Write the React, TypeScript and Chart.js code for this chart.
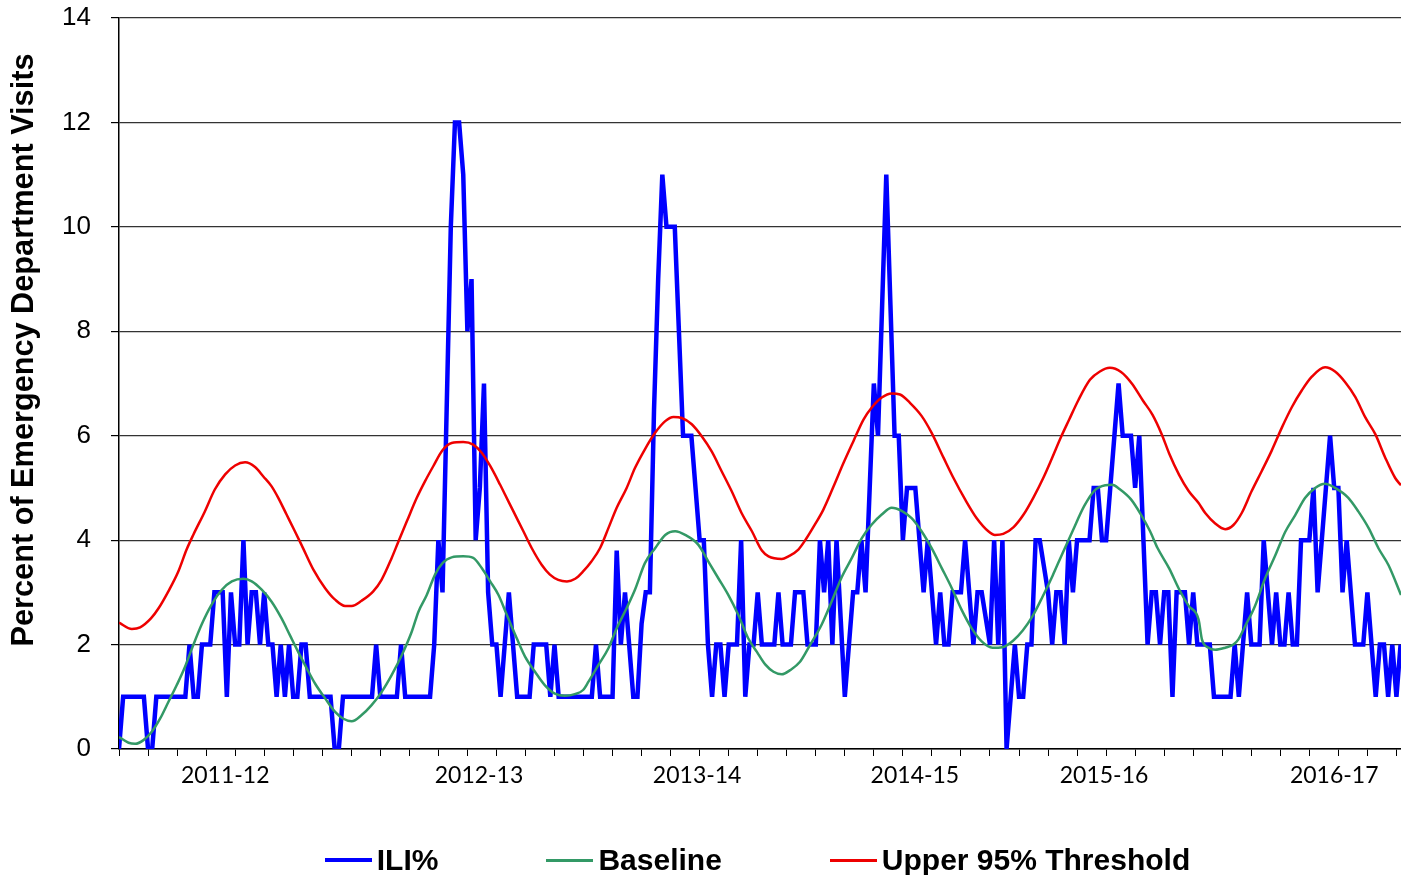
import React, { useEffect, useRef } from "react";
import { Chart, registerables } from "chart.js";

Chart.register(...registerables);

// Weekly ILI% values (week index 0 = first week shown)
const iliValues: number[] = [
  0, 1, 1, 1, 1, 1, 1, 0, 0, 1,
  1, 1, 1, 1, 1, 1, 1, 2, 1, 1,
  2, 2, 2, 3, 3, 3, 1, 3, 2, 2,
  4, 2, 3, 3, 2, 3, 2, 2, 1, 2,
  1, 2, 1, 1, 2, 2, 1, 1, 1, 1,
  1, 1, 0, 0, 1, 1, 1, 1, 1, 1,
  1, 1, 2, 1, 1, 1, 1, 1, 2, 1,
  1, 1, 1, 1, 1, 1, 2, 4, 3, 6.5,
  10, 12, 12, 11, 8, 9, 4, 5, 7, 3,
  2, 2, 1, 2, 3, 2, 1, 1, 1, 1,
  2, 2, 2, 2, 1, 2, 1, 1, 1, 1,
  1, 1, 1, 1, 1, 2, 1, 1, 1, 1,
  3.8, 2, 3, 2, 1, 1, 2.4, 3, 3, 6.5,
  9, 11, 10, 10, 10, 8, 6, 6, 6, 5,
  4, 4, 2, 1, 2, 2, 1, 2, 2, 2,
  4, 1, 2, 2, 3, 2, 2, 2, 2, 3,
  2, 2, 2, 3, 3, 3, 2, 2, 2, 4,
  3, 4, 2, 4, 2.5, 1, 2, 3, 3, 4,
  3, 5, 7, 6, 8.5, 11, 8.5, 6, 6, 4,
  5, 5, 5, 4, 3, 4, 3, 2, 3, 2,
  2, 3, 3, 3, 4, 3, 2, 3, 3, 2.5,
  2, 4, 2, 4, 0, 1, 2, 1, 1, 2,
  2, 4, 4, 3.5, 3, 2, 3, 3, 2, 4,
  3, 4, 4, 4, 4, 5, 5, 4, 4, 5,
  6, 7, 6, 6, 6, 5, 6, 4, 2, 3,
  3, 2, 3, 3, 1, 3, 3, 3, 2, 3,
  2, 2, 2, 2, 1, 1, 1, 1, 1, 2,
  1, 2, 3, 2, 2, 2, 4, 3, 2, 3,
  2, 2, 3, 2, 2, 4, 4, 4, 5, 3,
  4, 5, 6, 5, 5, 3, 4, 3, 2, 2,
  2, 3, 2, 1, 2, 2, 1, 2, 1, 2,
];

// Baseline, read at these week positions
const baselineWeeks: number[] = [
  0, 2.3, 3.9, 5.9, 7.9, 9.9, 11.9, 13.9, 15.9, 17.9,
  19.9, 22.3, 24.8, 27.2, 30, 32, 34.4, 36.8, 39.2, 41.2,
  43.2, 45.3, 47.3, 49.7, 52.1, 54.1, 56.1, 58.5, 60.9, 63.3,
  65.7, 68.2, 70.6, 72.2, 74.2, 76.2, 78, 80.2, 83, 85.4,
  87.5, 89.5, 91.5, 93.5, 95.9, 97.9, 100.3, 102.7, 105.1, 107.5,
  109.9, 111.9, 113.2, 115.6, 118, 120, 122.4, 124.4, 126.8, 129.3,
  131.7, 134.1, 136.5, 139.7, 142.1, 144.5, 146.9, 149.3, 151.7, 153.8,
  155.8, 157.8, 159.8, 161.8, 164.2, 166.6, 169.4, 171.8, 174.3, 176.7,
  179.1, 181.5, 183.9, 186.3, 188.7, 191.1, 193.5, 195.9, 198.4, 200.8,
  203.2, 205.6, 208, 210.6, 213, 215.5, 217.9, 220.3, 222.7, 225.1,
  227.5, 229.9, 232.7, 235.2, 237.8, 239.5, 241.2, 244, 246.4, 248.6,
  250.4, 253.2, 255.6, 257.9, 260.3, 261.1, 262.7, 264.3, 266.7, 268.7,
  269.9, 271.5, 273.9, 276.3, 278.8, 281.2, 283.6, 286, 288.4, 290.8,
  293.2, 296.4, 298.8, 301.3, 303.7, 306.1, 309.1,
];
const baselineValues: number[] = [
  0.23, 0.12, 0.1, 0.17, 0.33, 0.58, 0.9, 1.22, 1.57, 1.99,
  2.38, 2.76, 3.05, 3.21, 3.26, 3.21, 3.05, 2.82, 2.5, 2.18,
  1.86, 1.54, 1.25, 0.97, 0.71, 0.58, 0.53, 0.65, 0.84, 1.09,
  1.41, 1.8, 2.25, 2.63, 2.95, 3.34, 3.56, 3.67, 3.69, 3.66,
  3.46, 3.21, 2.95, 2.57, 2.12, 1.77, 1.48, 1.22, 1.06, 1.02,
  1.05, 1.13, 1.29, 1.61, 1.93, 2.31, 2.7, 3.05, 3.56, 3.85,
  4.1, 4.17, 4.1, 3.91, 3.59, 3.27, 2.95, 2.57, 2.12, 1.86,
  1.62, 1.48, 1.43, 1.51, 1.67, 1.99, 2.38, 2.82, 3.3, 3.66,
  4.04, 4.3, 4.49, 4.62, 4.56, 4.42, 4.17, 3.85, 3.46, 3.08,
  2.66, 2.31, 2.06, 1.94, 1.95, 2.07, 2.27, 2.55, 2.92, 3.32,
  3.75, 4.17, 4.65, 4.95, 5.05, 5.06, 4.98, 4.78, 4.49, 4.17,
  3.85, 3.46, 3.06, 2.74, 2.48, 2.1, 1.94, 1.9, 1.94, 2.0,
  2.1, 2.35, 2.74, 3.26, 3.71, 4.16, 4.48, 4.81, 5.0, 5.08,
  5.0, 4.81, 4.55, 4.23, 3.84, 3.52, 2.95,
];

// Upper 95% threshold, read at these week positions
const thresholdWeeks: number[] = [
  0, 3.1, 5.1, 7.7, 9.5, 11.9, 14.3, 16.3, 17.9, 20.7,
  23.1, 25.6, 28, 30.4, 32.8, 34.8, 36.8, 38.4, 40.4, 42.4,
  44, 46.9, 49.7, 52.1, 54.5, 56.1, 58.5, 61.3, 63.3, 65.7,
  67.4, 69.4, 71.8, 73.8, 75.8, 78, 80.2, 83, 85.4, 87.5,
  89.5, 91.9, 93.1, 95.1, 97.5, 99.5, 101.9, 103.9, 105.9, 108,
  110, 111.9, 113.9, 116, 118, 120, 122.4, 124.4, 126.8, 129.3,
  131.7, 133.7, 135.7, 138.1, 140.5, 142.9, 145.3, 147.7, 150.1, 152.6,
  155, 156.6, 159.8, 161.4, 163.8, 165.8, 167.8, 169.8, 172.3, 174.7,
  177.1, 179.5, 181.5, 183.9, 186.3, 188.3, 190.7, 193.5, 195.9, 198.8,
  201.2, 204, 206.8, 209.6, 211.2, 213.2, 215.7, 218.1, 220.5, 222.9,
  224.9, 227.1, 229.1, 231.3, 234.1, 236.5, 238.9, 241.6, 244.2, 246.9,
  249.2, 251.4, 253.2, 255.6, 257.9, 260.3, 261.9, 264.3, 266.7, 268.7,
  270.7, 273.1, 275.5, 277.9, 280.4, 282.8, 285.2, 287.6, 290.8, 293.2,
  295.6, 298.1, 300.5, 302.9, 305.3, 307.7, 309.1,
];
const thresholdValues: number[] = [
  2.42, 2.3, 2.33, 2.5, 2.69, 3.02, 3.4, 3.82, 4.1, 4.55,
  4.97, 5.26, 5.43, 5.49, 5.4, 5.22, 5.03, 4.81, 4.49, 4.17,
  3.91, 3.43, 3.08, 2.86, 2.74, 2.74, 2.84, 3.02, 3.24, 3.65,
  3.98, 4.36, 4.81, 5.13, 5.42, 5.72, 5.86, 5.88, 5.83, 5.67,
  5.42, 5.06, 4.87, 4.55, 4.17, 3.85, 3.53, 3.34, 3.24, 3.21,
  3.26, 3.4, 3.59, 3.85, 4.23, 4.62, 5.0, 5.38, 5.74, 6.06,
  6.28, 6.36, 6.34, 6.22, 5.99, 5.7, 5.32, 4.94, 4.52, 4.17,
  3.8, 3.69, 3.64, 3.69, 3.82, 4.04, 4.3, 4.58, 5.03, 5.48,
  5.9, 6.31, 6.54, 6.73, 6.81, 6.79, 6.63, 6.38, 6.06, 5.58,
  5.19, 4.78, 4.42, 4.17, 4.1, 4.12, 4.25, 4.49, 4.82, 5.2,
  5.56, 5.97, 6.31, 6.68, 7.07, 7.23, 7.3, 7.22, 7.0, 6.67,
  6.4, 6.03, 5.66, 5.25, 4.94, 4.71, 4.52, 4.32, 4.21, 4.29,
  4.52, 4.94, 5.32, 5.71, 6.16, 6.55, 6.87, 7.13, 7.31, 7.23,
  7.03, 6.74, 6.35, 6.03, 5.58, 5.19, 5.05,
];

// Season labels and their week positions on the axis
const seasonLabels: string[] = ["2011-12", "2012-13", "2013-14", "2014-15", "2015-16", "2016-17"];
const seasonWeeks: number[] = [25.6, 86.8, 139.4, 191.9, 237.5, 293.0];

// Axis tick values
const yTickValues: number[] = [0, 2, 4, 6, 8, 10, 12, 14];
const weekTickValues: number[] = [
  0, 7, 14, 21, 28, 35, 42, 49, 56, 63, 70, 77, 84, 91, 98, 105, 112, 119, 126, 133, 140,
  147, 154, 161, 168, 175, 182, 189, 196, 203, 210, 217, 224, 231, 238, 245, 252, 259,
  266, 273, 280, 287, 294, 301, 308,
];

const yTitle = "Percent of Emergency Department Visits";
const seriesNames = ["ILI%", "Baseline", "Upper 95% Threshold"];
const seriesColors = ["#0000FF", "#339966", "#EE0000"];

const yTitlePlugin = {
  id: "yTitlePlugin",
  afterDraw(chart: any) {
    const ctx = chart.ctx;
    ctx.save();
    ctx.translate(25, 350);
    ctx.rotate(-Math.PI / 2);
    ctx.font = "bold 30.7px 'Liberation Sans', Arial, sans-serif";
    ctx.fillStyle = "#000";
    ctx.textAlign = "center";
    ctx.textBaseline = "middle";
    ctx.fillText(yTitle, 0, 0);
    ctx.restore();
  },
};

export default function App() {
  const canvasRef = useRef<HTMLCanvasElement | null>(null);

  useEffect(() => {
    if (!canvasRef.current) return;
    const chart = new Chart(canvasRef.current, {
      type: "line",
      data: {
        datasets: [
          {
            label: seriesNames[0],
            data: iliValues.map((v, i) => ({ x: i, y: v })),
            borderColor: seriesColors[0],
            backgroundColor: seriesColors[0],
            borderWidth: 4.5,
            pointRadius: 0,
            tension: 0,
            order: 3,
          },
          {
            label: seriesNames[1],
            data: baselineWeeks.map((w, i) => ({ x: w, y: baselineValues[i] })),
            borderColor: seriesColors[1],
            backgroundColor: seriesColors[1],
            borderWidth: 2.5,
            pointRadius: 0,
            cubicInterpolationMode: "monotone",
            order: 2,
          },
          {
            label: seriesNames[2],
            data: thresholdWeeks.map((w, i) => ({ x: w, y: thresholdValues[i] })),
            borderColor: seriesColors[2],
            backgroundColor: seriesColors[2],
            borderWidth: 2.5,
            pointRadius: 0,
            cubicInterpolationMode: "monotone",
            order: 1,
          },
        ],
      },
      options: {
        animation: false,
        responsive: true,
        maintainAspectRatio: false,
        parsing: false as any,
        layout: { padding: { top: 18, left: 0, right: 0, bottom: 0 } },
        plugins: {
          legend: { display: false },
          tooltip: { enabled: false },
        },
        scales: {
          x: {
            type: "linear",
            position: "bottom",
            min: 0,
            max: 309.1,
            weight: 1,
            afterBuildTicks: (s: any) => {
              s.ticks = weekTickValues.map((v) => ({ value: v }));
            },
            afterFit: (s: any) => {
              s.height = 8;
              s.paddingLeft = 0;
              s.paddingRight = 0;
            },
            grid: {
              drawOnChartArea: false,
              drawTicks: true,
              tickLength: 7,
              color: "#000",
              lineWidth: 1,
            },
            border: { display: true, color: "#000", width: 1.5 },
            ticks: { display: false },
          },
          x2: {
            type: "linear",
            position: "bottom",
            min: 0,
            max: 309.1,
            weight: 2,
            afterBuildTicks: (s: any) => {
              s.ticks = seasonWeeks.map((v) => ({ value: v }));
            },
            afterFit: (s: any) => {
              s.height = 118;
              s.paddingLeft = 0;
              s.paddingRight = 0;
            },
            grid: { display: false, drawTicks: false },
            border: { display: false },
            ticks: {
              autoSkip: false,
              maxRotation: 0,
              padding: 5,
              color: "#000",
              font: { family: "Lato, 'Liberation Sans', sans-serif", size: 23 },
              callback: (_v: any, i: number) => seasonLabels[i],
            },
          },
          y: {
            type: "linear",
            min: 0,
            max: 14,
            afterBuildTicks: (s: any) => {
              s.ticks = yTickValues.map((v) => ({ value: v }));
            },
            afterFit: (s: any) => {
              s.width = 119;
              s.paddingTop = 0;
              s.paddingBottom = 0;
            },
            grid: {
              color: "#333",
              lineWidth: 1.2,
              drawTicks: true,
              tickLength: 8,
              tickColor: "#000",
            },
            border: { display: true, color: "#000", width: 1.5 },
            ticks: {
              padding: 20,
              color: "#000",
              font: { family: "'Liberation Sans', Arial, sans-serif", size: 26 },
            },
          },
        },
      },
      plugins: [yTitlePlugin],
    } as any);
    return () => chart.destroy();
  }, []);

  const lineHeights = [4, 3, 3];

  return (
    <div style={{ position: "absolute", left: 0, top: 0, width: 1401, height: 875, overflow: "hidden", background: "#fff" }}>
      <canvas ref={canvasRef} />
      <div
        style={{
          position: "absolute",
          left: 114,
          top: 840,
          width: 1287,
          height: 40,
          display: "flex",
          justifyContent: "center",
          alignItems: "center",
          gap: 108,
          fontFamily: "'Liberation Sans', Arial, sans-serif",
          fontWeight: "bold",
          fontSize: 30,
          lineHeight: "30px",
          color: "#000",
        }}
      >
        {seriesNames.map((name, i) => (
          <div key={name} style={{ display: "flex", alignItems: "center" }}>
            <span
              style={{
                display: "inline-block",
                width: 47,
                height: lineHeights[i],
                background: seriesColors[i],
                marginRight: 5,
              }}
            />
            <span>{name}</span>
          </div>
        ))}
      </div>
    </div>
  );
}
